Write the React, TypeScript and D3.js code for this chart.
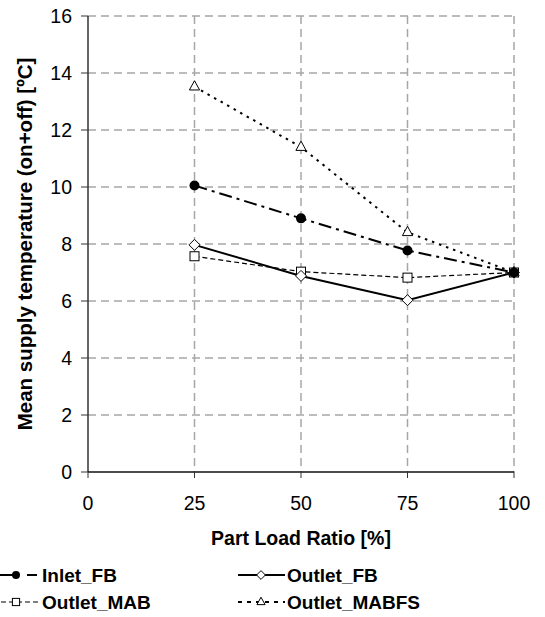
import React from "react";
import * as d3 from "d3";

const xValues = [25, 50, 75, 100];
const inletFB = [10.05, 8.9, 7.77, 7.0];
const outletFB = [7.97, 6.88, 6.03, 7.0];
const outletMAB = [7.57, 7.03, 6.82, 7.0];
const outletMABFS = [13.52, 11.4, 8.41, 7.0];
const xTicks = [0, 25, 50, 75, 100];
const yTicks = [0, 2, 4, 6, 8, 10, 12, 14, 16];

const W = 545;
const H = 617;
const FONT = "'Liberation Sans', Arial, sans-serif";

type Series = {
  name: string;
  values: number[];
  dash: string;
  width: number;
  marker: "circle" | "diamond" | "square" | "triangle";
  legendDash: string;
};

const series: Series[] = [
  { name: "Outlet_MAB", values: outletMAB, dash: "5,3", width: 1.2, marker: "square", legendDash: "5,3" },
  { name: "Outlet_FB", values: outletFB, dash: "", width: 2, marker: "diamond", legendDash: "" },
  { name: "Outlet_MABFS", values: outletMABFS, dash: "2.5,5", width: 2, marker: "triangle", legendDash: "4,5" },
  { name: "Inlet_FB", values: inletFB, dash: "13,5,3,5", width: 2, marker: "circle", legendDash: "24,10,10,40" },
];

function Marker({ type, x, y, s = 1 }: { type: string; x: number; y: number; s?: number }) {
  if (type === "circle") return <circle cx={x} cy={y} r={5 * s} fill="#000" />;
  if (type === "diamond") {
    const r = 5.5 * s;
    return (
      <path
        d={`M${x},${y - r}L${x + r},${y}L${x},${y + r}L${x - r},${y}Z`}
        fill="#fff"
        stroke="#000"
        strokeWidth={1}
      />
    );
  }
  if (type === "square") {
    const r = 4.5 * s;
    return <rect x={x - r} y={y - r} width={2 * r} height={2 * r} fill="#fff" stroke="#000" strokeWidth={1} />;
  }
  const r = 6 * s;
  return (
    <path
      d={`M${x},${y - r}L${x + r * 0.85},${y + r * 0.55}L${x - r * 0.85},${y + r * 0.55}Z`}
      fill="#fff"
      stroke="#000"
      strokeWidth={1}
    />
  );
}

export default function App() {
  const x = d3.scaleLinear().domain([0, 100]).range([88, 514]);
  const y = d3.scaleLinear().domain([0, 16]).range([472, 16]);
  const line = d3
    .line<[number, number]>()
    .x((d) => x(d[0]))
    .y((d) => y(d[1]));

  const legendItems = [
    { s: series[3], lx: -7, ly: 575 },
    { s: series[1], lx: 238, ly: 575 },
    { s: series[0], lx: -7, ly: 602 },
    { s: series[2], lx: 238, ly: 602 },
  ];

  return (
    <svg
      width={W}
      height={H}
      style={{ position: "absolute", left: 0, top: 0, background: "#fff" }}
      fontFamily={FONT}
    >
      <rect width={W} height={H} fill="#fff" />
      {/* grid */}
      {yTicks
        .filter((t) => t > 0)
        .map((t) => (
          <line
            key={"gy" + t}
            x1={x(0)}
            x2={x(100)}
            y1={y(t)}
            y2={y(t)}
            stroke="#a6a6a6"
            strokeWidth={1.5}
            strokeDasharray="8,5"
          />
        ))}
      {xTicks
        .filter((t) => t > 0)
        .map((t) => (
          <line
            key={"gx" + t}
            x1={x(t)}
            x2={x(t)}
            y1={y(16)}
            y2={y(0)}
            stroke="#a6a6a6"
            strokeWidth={1.5}
            strokeDasharray="8,5"
          />
        ))}
      {/* axes */}
      <line x1={x(0)} x2={x(0)} y1={y(16)} y2={y(0)} stroke="#333" strokeWidth={1.5} />
      <line x1={x(0)} x2={x(100)} y1={y(0)} y2={y(0)} stroke="#111" strokeWidth={1.5} />
      {yTicks.map((t) => (
        <g key={"yt" + t}>
          <line x1={x(0) - 7} x2={x(0)} y1={y(t)} y2={y(t)} stroke="#333" strokeWidth={1} />
          <text x={72} y={y(t)} dy="0.35em" textAnchor="end" fontSize={19.5} fill="#000">
            {t}
          </text>
        </g>
      ))}
      {xTicks.map((t) => (
        <g key={"xt" + t}>
          <line x1={x(t)} x2={x(t)} y1={y(0)} y2={y(0) + 6} stroke="#333" strokeWidth={1} />
          <text x={x(t)} y={503} dy="0.35em" textAnchor="middle" fontSize={19.5} fill="#000">
            {t}
          </text>
        </g>
      ))}
      {/* titles */}
      <text x={301} y={538} dy="0.35em" textAnchor="middle" fontSize={19.5} fontWeight="bold">
        Part Load Ratio [%]
      </text>
      <text
        transform={`translate(25,${(y(0) + y(16)) / 2}) rotate(-90)`}
        dy="0.35em"
        textAnchor="middle"
        fontSize={20.5}
        fontWeight="bold"
      >
        Mean supply temperature (on+off) [ºC]
      </text>
      {/* series */}
      {series.map((s) => (
        <path
          key={s.name}
          d={line(xValues.map((v, i) => [v, s.values[i]]) as [number, number][]) || ""}
          fill="none"
          stroke="#000"
          strokeWidth={s.width}
          strokeDasharray={s.dash || undefined}
        />
      ))}
      {series.map((s) =>
        xValues.map((v, i) => <Marker key={s.name + i} type={s.marker} x={x(v)} y={y(s.values[i])} />)
      )}
      {/* legend */}
      {legendItems.map(({ s, lx, ly }) => (
        <g key={"lg" + s.name}>
          <line
            x1={lx}
            x2={lx + 47}
            y1={ly}
            y2={ly}
            stroke="#000"
            strokeWidth={s.marker === "square" ? 1.2 : 2}
            strokeDasharray={s.legendDash || undefined}
          />
          <Marker type={s.marker} x={lx + 23} y={ly} s={0.8} />
          <text x={lx + 49} y={ly} dy="0.35em" fontSize={19} fontWeight="bold">
            {s.name}
          </text>
        </g>
      ))}
    </svg>
  );
}
